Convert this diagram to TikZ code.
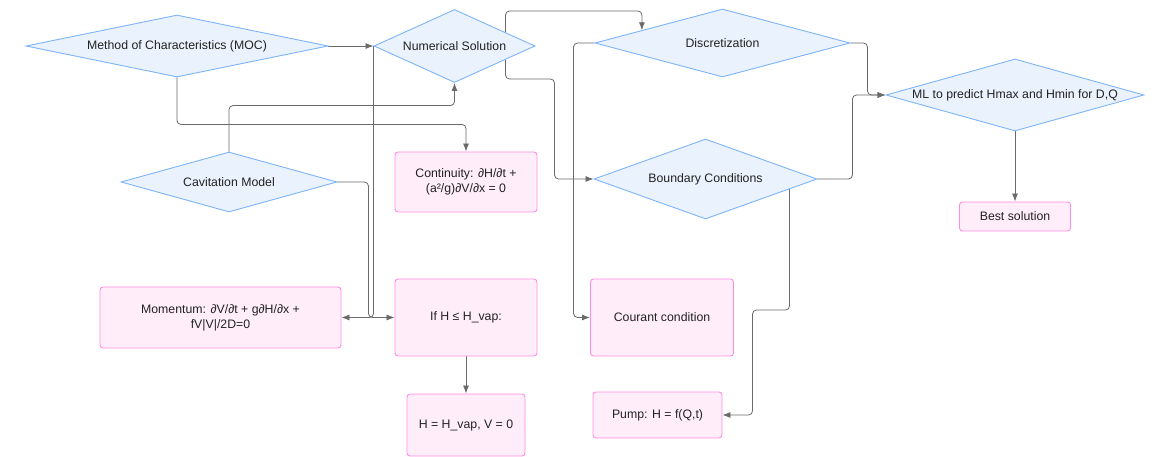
\documentclass[tikz,border=0pt]{standalone}
\usepackage{fontspec}
\setmainfont{Liberation Sans}
\usetikzlibrary{shapes,arrows,arrows.meta,positioning,calc}
\definecolor{dbord}{HTML}{7DB4FA}
\definecolor{dfill}{HTML}{EAF3FD}
\definecolor{bbord}{HTML}{FF8CE2}
\definecolor{bfill}{HTML}{FFEEFA}
\definecolor{wire}{HTML}{6A6A6A}
\definecolor{ink}{HTML}{222222}
\pgfdeclarelayer{background}
\pgfsetlayers{background,main}
\tikzset{
    decision/.style = {
        draw=dbord,
        fill=dfill,
        diamond,
        aspect=4,
        inner sep=0pt,
        line width=0.9pt
    },
    block/.style = {
        draw=bbord,
        fill=bfill,
        rectangle,
        rounded corners=3pt,
        align=center,
        line width=0.9pt
    },
    wire/.style = {
        draw=wire,
        line width=0.8pt,
        rounded corners=4pt
    }
}

\begin{document}
\begin{tikzpicture}[x=1pt,y=-1pt,node distance=2cm,>={Latex[length=8pt,width=6pt]},
    every node/.style={text=ink,font=\fontsize{12.3}{15}\selectfont}]
            \useasboundingbox (0,0) rectangle (1153,457);
            % nodes
            \node [decision,minimum width=302pt,minimum height=62pt] (moc) at (177,46) {Method of Characteristics (MOC)};
            \node [decision,minimum width=161pt,minimum height=73pt,right of=moc,node distance=277.5pt] (numsol) {Numerical Solution};
            \node [decision,minimum width=216pt,minimum height=60pt] (cavit) at (229,182) {Cavitation Model};
            \node [decision,minimum width=255pt,minimum height=68pt] (discr) at (722.5,43) {Discretization};
            \node [decision,minimum width=223pt,minimum height=80pt] (bound) at (705.5,179) {Boundary Conditions};
            \node [decision,minimum width=258pt,minimum height=72pt] (ml) at (1015,95) {ML to predict Hmax and Hmin for D,Q};

            \node [block,minimum width=142pt,minimum height=60pt,right of=cavit,node distance=237pt] (contin) {Continuity: ∂H/∂t +\\(a²/g)∂V/∂x = 0};
            \node [block,minimum width=142pt,minimum height=77pt,below of=contin,node distance=135.5pt] (ifh) {If H ≤ H\_vap:};
            \node [block,minimum width=118pt,minimum height=62pt,below of=ifh,node distance=107.5pt] (hvap) {H = H\_vap, V = 0};
            \node [block,minimum width=241pt,minimum height=61pt,left of=ifh,node distance=245.5pt] (momentum) {Momentum: ∂V/∂t + g∂H/∂x +\\fV|V|/2D=0};
            \node [block,minimum width=143pt,minimum height=77pt,right of=ifh,node distance=196pt] (courant) {Courant condition};
            \node [block,minimum width=129pt,minimum height=46pt] (pump) at (657.5,415) {Pump: H = f(Q,t)};
            \node [block,minimum width=111pt,minimum height=29pt,below of=ml,node distance=121.5pt] (best) {Best solution};

            % arrows
            \begin{pgfonlayer}{background}
            \draw [wire,->] (moc) -- (numsol);
            \draw [wire,->] (moc.south) -- ++(0,47) -| (contin.north);
            \draw [wire,->] (cavit.north) -- ++(0,-46) -| (numsol.south);
            \draw [wire,->] (cavit.east) -- ++(31,0) |- (ifh.west);
            \draw [wire,->] (numsol.west) |- (momentum.east);
            \draw [wire,->] (ifh) -- (hvap);
            \draw [wire,->] ([xshift=51pt]numsol.center) -- ++(0,-35) -| ($(discr.west)!0.37!(discr.north)$);
            \draw [wire,->] ([xshift=51pt]numsol.center) -- ++(0,33) -- ++(49,0) |- (bound.west);
            \draw [wire,->] (discr.west) -- ++(-21,0) |- (courant.west);
            \draw [wire,->] (discr.east) -- ++(17,0) |- (ml.west);
            \draw [wire,->] (bound.east) -- ++(35,0) |- (ml.west);
            \draw [wire,->] ([xshift=84pt]bound.center) -- ++(0,131) -- ++(-37,0) |- (pump.east);
            \draw [wire,->] (ml) -- (best);
            \end{pgfonlayer}
        \end{tikzpicture}
\end{document}
